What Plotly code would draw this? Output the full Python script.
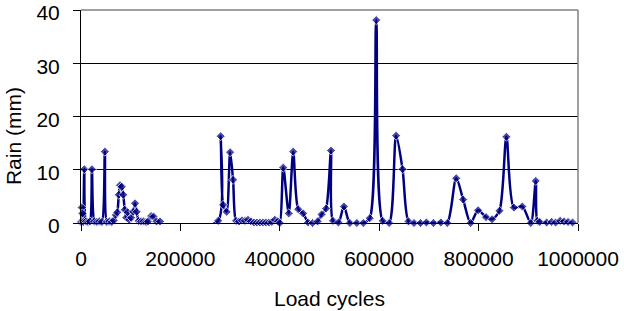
import plotly.graph_objects as go

# Load cycles (x) and rain in mm (y)
load_cycles = [
    0, 1500, 3000, 4500, 6600, 10000, 14000, 18000, 22000, 27000, 32000, 37000,
    42000, 48000, 52000, 57000, 62000, 66000, 70000, 73000, 76000, 78500, 82000,
    85000, 88000, 91000, 94000, 97000, 101000, 105000, 108700, 112000, 116000,
    121000, 126000, 131000, 135000, 141000, 146000, 152000, 159000,
    None,
    226000, 276000, 281000, 286000, 293000, 300000, 306000, 312000, 318000,
    324000, 330000, 336000, 342000, 348000, 354000, 360000, 366000, 372000,
    378000, 384000, 390000, 396000, 400000, 407000, 418000, 427000, 437000,
    447000, 457000, 466000, 476000, 484000, 493000, 503000, 507000, 518000,
    529000, 541000, 555000, 568000, 581000, 594000, 607000, 620000, 634000,
    647000, 659000, 670000, 683000, 695000, 709000, 724000, 737000, 755000,
    769000, 784000, 799000, 815000, 827000, 842000, 856000, 871000, 888000,
    905000, 915000, 918000, 923000, 937000, 947000, 955000, 964000, 972000,
    980000, 989000,
]
rain_mm = [
    0.2, 2.9, 1.8, 0.2, 10.1, 0.3, 0.2, 0.3, 10.1, 0.3, 0.2, 0.3,
    0.2, 13.4, 0.2, 0.3, 0.2, 0.5, 1.5, 2.0, 5.3, 7.1, 6.8,
    5.3, 2.5, 1.0, 2.0, 0.6, 1.0, 2.1, 3.7, 2.1, 0.4,
    0.3, 0.3, 0.2, 0.3, 1.3, 1.2, 0.3, 0.3,
    None,
    -0.7, 0.4, 16.3, 3.4, 2.1, 13.3, 8.1, 0.4, 0.3,
    0.5, 0.4, 0.6, 0.3, 0.1, 0.1, 0.1, 0.1, 0.1,
    0.1, 0.2, 0.6, 0.3, 0.0, 10.4, 1.8, 13.4, 2.6,
    1.8, 0.1, 0.0, 0.3, 1.6, 2.7, 13.6, 0.4, 0.1,
    3.1, 0.0, 0.0, 0.0, 0.9, 38.1, 0.4, 0.0, 16.4,
    10.1, 0.3, 0.0, 0.0, 0.1, 0.0, 0.1, 0.0, 8.4,
    4.4, 0.0, 2.4, 1.1, 0.7, 2.3, 16.2, 2.9, 3.1,
    0.0, 7.9, 0.4, 0.2, 0.1, 0.2, 0.1, 0.4, 0.3,
    0.2, 0.1,
]
# marker shown (1) or hidden (0) for each reading
marker_shown = [1] * 41 + [0, 0] + [1] * (len(load_cycles) - 43)

x_ticks = [0, 200000, 400000, 600000, 800000, 1000000]
y_ticks = [0, 10, 20, 30, 40]

NAVY = "#000080"
FONT = "Liberation Sans, Arial, sans-serif"

fig = go.Figure()
fig.add_trace(go.Scatter(
    x=load_cycles, y=rain_mm, mode="lines+markers",
    line=dict(color=NAVY, width=2.5, shape="spline", smoothing=0.8),
    marker=dict(symbol="diamond", size=[7 * m for m in marker_shown], color=NAVY),
    connectgaps=False, cliponaxis=False, showlegend=False,
))

fig.update_layout(
    width=624, height=311,
    margin=dict(l=81, r=46, t=10, b=88),
    paper_bgcolor="white", plot_bgcolor="white",
    font=dict(family=FONT, size=21, color="black"),
    xaxis=dict(
        range=[0, 1000000], tickvals=x_ticks, ticktext=[str(v) for v in x_ticks],
        showgrid=False, zeroline=False, showline=True, linecolor="black", linewidth=1,
        ticks="outside", ticklen=7, tickcolor="black", ticklabelstandoff=10,
        automargin=False, ticklabeloverflow="allow",
    ),
    yaxis=dict(
        range=[0, 40], tickvals=y_ticks,
        showgrid=True, gridcolor="black", gridwidth=1, zeroline=False,
        showline=True, linecolor="black", linewidth=1,
        ticks="outside", ticklen=7, tickcolor="black", ticklabelstandoff=9,
        ticklabelshift=3,
        automargin=False, ticklabeloverflow="allow",
    ),
    annotations=[
        dict(text="Rain (mm)", textangle=-90, xref="paper", yref="paper",
             x=0, y=0.408, xanchor="center", yanchor="middle", xshift=-68,
             showarrow=False, font=dict(size=21)),
        dict(text="Load cycles", xref="paper", yref="paper",
             x=0.5, y=0, xanchor="center", yanchor="middle", yshift=-75,
             showarrow=False, font=dict(size=21)),
    ],
    shapes=[
        dict(type="line", xref="paper", yref="paper", x0=0, x1=1, y0=1, y1=1,
             line=dict(color="#808080", width=1.5), layer="above"),
        dict(type="line", xref="paper", yref="paper", x0=1, x1=1, y0=0, y1=1,
             line=dict(color="#808080", width=1.5), layer="above"),
    ],
)

fig.write_html("out.html", config={"displayModeBar": False},
               post_script="document.body.style.margin='0';")
